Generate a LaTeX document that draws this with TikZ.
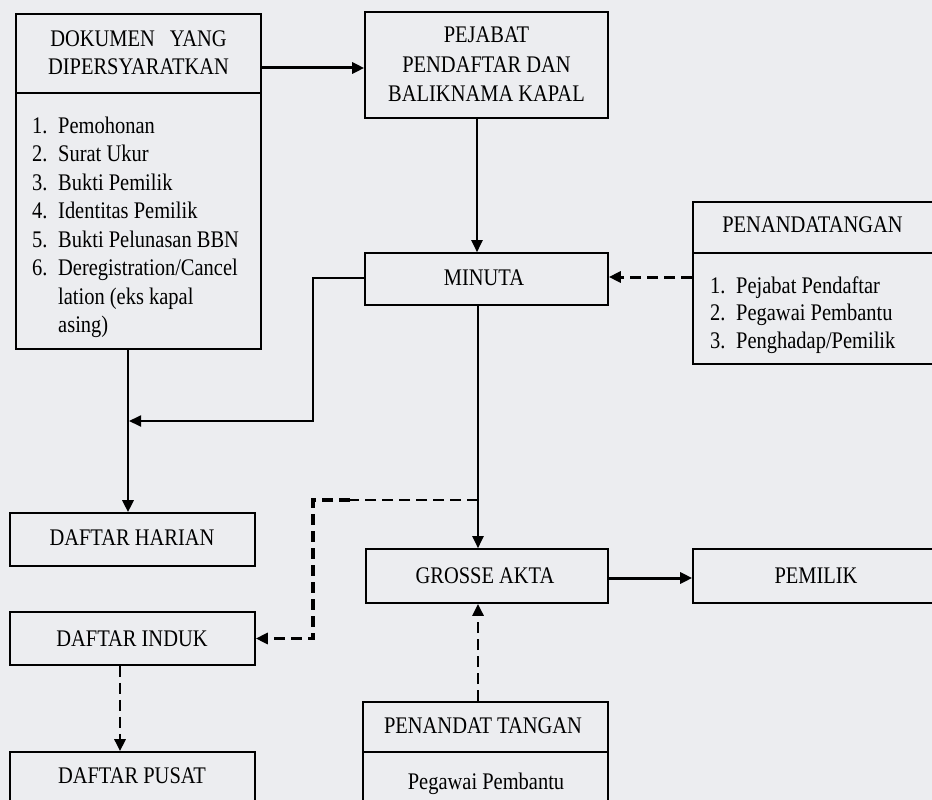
\documentclass[tikz,border=0pt]{standalone}
\usepackage{fontspec}
\setmainfont[FakeStretch=0.86]{Liberation Serif}
\usetikzlibrary{arrows.meta}
\definecolor{bgcol}{RGB}{236,237,240}
\newcommand\numitem[2]{\makebox[26pt][l]{#1}#2}
\begin{document}
\begin{tikzpicture}[x=1pt,y=-1pt,
  box/.style={draw=black, line width=1.6pt, rectangle, inner sep=0pt},
  txt/.style={inner sep=0pt, anchor=base, font=\fontsize{23.8}{28.5}\selectfont},
  tip/.style={-{Triangle[length=12pt,width=11pt]}},
  conn/.style={draw=black, line width=2.2pt, tip},
  thickconn/.style={draw=black, line width=3pt, tip},
  dashconn/.style={draw=black, line width=2.6pt, dash pattern=on 11pt off 6pt, tip}
]
\useasboundingbox (0,0) rectangle (932,800);
\fill[bgcol] (0,0) rectangle (932,800);

% ---- boxes ----
\node[box, minimum width=245pt, minimum height=79pt]  (dokhead) at (138.5,53.5) {};
\node[box, minimum width=245pt, minimum height=256pt] (dokbody) at (138.5,221) {};
\node[box, minimum width=243pt, minimum height=106pt] (pejabat) at (486.5,65) {};
\node[box, minimum width=243pt, minimum height=52pt]  (minuta)  at (486.5,279) {};
\node[box, minimum width=243pt, minimum height=51pt]  (pnhead)  at (814.5,227.5) {};
\node[box, minimum width=243pt, minimum height=111pt] (pnbody)  at (814.5,308.5) {};
\node[box, minimum width=245pt, minimum height=53pt]  (harian)  at (132.5,539.5) {};
\node[box, minimum width=245pt, minimum height=53pt]  (induk)   at (132.5,638.5) {};
\node[box, minimum width=245pt, minimum height=78pt]  (pusat)   at (132.5,791) {};
\node[box, minimum width=242pt, minimum height=54pt]  (grosse)  at (487,576) {};
\node[box, minimum width=247pt, minimum height=54pt]  (pemilik) at (816.5,576) {};
\node[box, minimum width=245pt, minimum height=50pt]  (pthead)  at (485.5,727) {};
\node[box, minimum width=245pt, minimum height=78pt]  (ptbody)  at (485.5,791) {};

% ---- texts ----
\node[txt] (dokheadt) at (138.5,47) {\parbox[t]{240pt}{\centering\fontsize{23.8}{28}\selectfont DOKUMEN\hspace{15pt}YANG\\DIPERSYARATKAN}};
\node[txt, anchor=base west] (doklist) at (32,133) {\parbox[t]{228pt}{\raggedright\fontsize{23.8}{28.57}\selectfont
\numitem{1.}{Pemohonan}\\
\numitem{2.}{Surat Ukur}\\
\numitem{3.}{Bukti Pemilik}\\
\numitem{4.}{Identitas Pemilik}\\
\numitem{5.}{Bukti Pelunasan BBN}\\
\numitem{6.}{Deregistration/Cancel}\\
\numitem{}{lation (eks kapal}\\
\numitem{}{asing)}}};
\node[txt] (pejabatt) at (486.5,43) {\parbox[t]{240pt}{\centering\fontsize{23.8}{29.5}\selectfont PEJABAT\\PENDAFTAR DAN\\BALIKNAMA KAPAL}};
\node[txt] (minutat) at (484,285) {MINUTA};
\node[txt] (pnheadt) at (812.5,232) {PENANDATANGAN};
\node[txt, anchor=base west] (pnlist) at (710,293) {\parbox[t]{220pt}{\raggedright\fontsize{23.8}{27.5}\selectfont
\numitem{1.}{Pejabat Pendaftar}\\
\numitem{2.}{Pegawai Pembantu}\\
\numitem{3.}{Penghadap/Pemilik}}};
\node[txt] (hariant) at (132,545) {DAFTAR HARIAN};
\node[txt] (indukt)  at (132,646) {DAFTAR INDUK};
\node[txt] (pusatt)  at (132,783) {DAFTAR PUSAT};
\node[txt] (grosset) at (485,583) {GROSSE AKTA};
\node[txt] (pemilikt) at (816,583) {PEMILIK};
\node[txt] (ptheadt) at (483,733) {PENANDAT TANGAN};
\node[txt] (ptbodyt) at (486,789) {Pegawai Pembantu};

% ---- connectors ----
\draw[thickconn] (dokhead.east |- 0,68) -- (pejabat.west |- 0,68);
\draw[conn] (pejabat.south -| 477,0) -- (minuta.north -| 477,0);
\draw[dashconn, line width=3pt] (pnbody.west |- 0,277) -- (minuta.east |- 0,277);
\coordinate (mcorner) at (313,421);
\coordinate (djoin) at (129,421);
\draw[conn, line width=1.8pt] (minuta.west |- 0,278) -| (mcorner) -- (djoin);
\draw[conn, line width=2.8pt] (dokbody.south -| 128,0) -- (harian.north -| 128,0);
\draw[conn] (minuta.south -| 478,0) -- (grosse.north -| 478,0);
\coordinate (branch) at (478,500);
\coordinate (bmid) at (350,500);
\coordinate (bcorner) at (313,500);
\draw[black, line width=2.2pt, dash pattern=on 11pt off 6pt] (branch) -- (bmid);
\draw[dashconn, line width=3.4pt] (bmid) -- (bcorner) |- (induk.east);
\draw[thickconn] (grosse.east |- 0,578) -- (pemilik.west |- 0,578);
\draw[dashconn] (pthead.north -| 478,0) -- (grosse.south -| 478,0);
\draw[dashconn] (induk.south -| 120,0) -- (pusat.north -| 120,0);
\end{tikzpicture}
\end{document}
